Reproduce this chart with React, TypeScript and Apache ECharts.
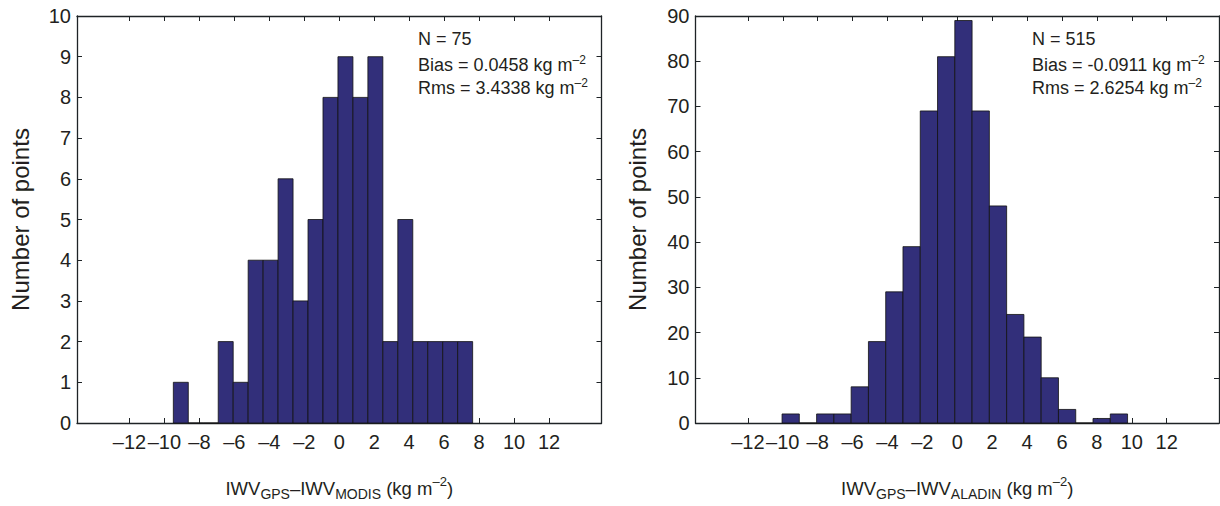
import React, { useEffect, useRef } from "react";
import * as echarts from "echarts";

const xTickValues = [-12, -10, -8, -6, -4, -2, 0, 2, 4, 6, 8, 10, 12];

const leftBinStart = -9.49;
const leftBinWidth = 0.856;
const leftCounts = [1, 0, 0, 2, 1, 4, 4, 6, 3, 5, 8, 9, 8, 9, 2, 5, 2, 2, 2, 2];

const rightBinStart = -10.04;
const rightBinWidth = 0.99;
const rightCounts = [2, 0, 2, 2, 8, 18, 29, 39, 69, 81, 89, 69, 48, 24, 19, 10, 3, 0, 1, 2];

const leftStats = ["N = 75", "Bias = 0.0458 kg m", "Rms = 3.4338 kg m"];
const rightStats = ["N = 515", "Bias = -0.0911 kg m", "Rms = 2.6254 kg m"];

const FONT = "Liberation Sans, Arial, Helvetica, sans-serif";
const TXT = "#231f20";
const AX = "#1e2326";
const BAR = "#322f7a";

function bins(start: number, width: number, counts: number[]) {
  return counts.map((c, i) => [start + i * width, start + (i + 1) * width, c]);
}

const rich = {
  n: { fontSize: 18.5, fontFamily: FONT, color: TXT, lineHeight: 26 },
  sub: { fontSize: 14, fontFamily: FONT, color: TXT, verticalAlign: "bottom", lineHeight: 15 },
  sup: { fontSize: 13, fontFamily: FONT, color: TXT, verticalAlign: "top", lineHeight: 13 },
};

const statRich = {
  n: { fontSize: 18, fontFamily: FONT, color: TXT, lineHeight: 22 },
  sup: { fontSize: 12, fontFamily: FONT, color: TXT, verticalAlign: "top", lineHeight: 11 },
};

export default function App() {
  const ref = useRef<HTMLDivElement>(null);
  useEffect(() => {
    if (!ref.current) return;
    const chart = echarts.init(ref.current, null, { renderer: "svg" });
    const grids = [
      { left: 77, right: 618.5, top: 16, bottom: 76 },
      { left: 695.5, right: 1, top: 16, bottom: 76 },
    ];
    const xAxes: any[] = [];
    const yAxes: any[] = [];
    const names = [
      "{n|IWV}{sub|GPS}{n|–IWV}{sub|MODIS}{n| (kg m}{sup|–2}{n|)}",
      "{n|IWV}{sub|GPS}{n|–IWV}{sub|ALADIN}{n| (kg m}{sup|–2}{n|)}",
    ];
    const yMax = [10, 90];
    const yInt = [1, 10];
    for (let g = 0; g < 2; g++) {
      const common = {
        gridIndex: g,
        type: "value",
        min: -15,
        max: 15,
        splitLine: { show: false },
        axisLine: { show: true, onZero: false, lineStyle: { color: AX, width: 1.3 } },
        axisTick: { show: true, inside: true, length: 5, customValues: xTickValues, lineStyle: { color: AX } },
      };
      xAxes.push({
        ...common,
        position: "bottom",
        name: names[g],
        nameLocation: "middle",
        nameGap: 52,
        nameTextStyle: { rich },
        axisLabel: {
          show: true,
          customValues: xTickValues,
          fontSize: 20,
          fontFamily: FONT,
          color: TXT,
          margin: 9,
          formatter: (v: number) => String(v).replace("-", "–"),
        },
      });
      xAxes.push({ ...common, position: "top", axisLabel: { show: false } });
      const ycommon = {
        gridIndex: g,
        type: "value",
        min: 0,
        max: yMax[g],
        interval: yInt[g],
        splitLine: { show: false },
        axisLine: { show: true, onZero: false, lineStyle: { color: AX, width: 1.3 } },
        axisTick: { show: true, inside: true, length: 5, lineStyle: { color: AX } },
      };
      yAxes.push({
        ...ycommon,
        position: "left",
        name: "Number of points",
        nameLocation: "middle",
        nameGap: g === 0 ? 45 : 46,
        nameTextStyle: { fontSize: 24, fontFamily: FONT, color: TXT },
        axisLabel: { show: true, fontSize: 20, fontFamily: FONT, color: TXT, margin: 6 },
      });
      yAxes.push({ ...ycommon, position: "right", axisLabel: { show: false } });
    }

    const renderItem = (params: any, api: any) => {
      const x0 = api.value(0);
      const x1 = api.value(1);
      const c = api.value(2);
      const p0 = api.coord([x0, c]);
      const p1 = api.coord([x1, 0]);
      return {
        type: "rect",
        shape: { x: p0[0], y: p0[1], width: p1[0] - p0[0], height: p1[1] - p0[1] },
        style: { fill: BAR, stroke: "#111", lineWidth: 0.8 },
      };
    };

    const statText = (x: number, lines: string[]) =>
      lines.map((t, i) => ({
        type: "text",
        left: x,
        top: 30 + i * 23.5,
        style: {
          text: i === 0 ? `{n|${t}}` : `{n|${t}}{sup|–2}`,
          rich: statRich,
          fill: TXT,
        },
      }));

    chart.setOption({
      animation: false,
      grid: grids,
      xAxis: xAxes,
      yAxis: yAxes,
      series: [
        {
          type: "custom",
          xAxisIndex: 0,
          yAxisIndex: 0,
          renderItem,
          encode: { x: [0, 1], y: 2 },
          data: bins(leftBinStart, leftBinWidth, leftCounts),
          clip: false,
        },
        {
          type: "custom",
          xAxisIndex: 2,
          yAxisIndex: 2,
          renderItem,
          encode: { x: [0, 1], y: 2 },
          data: bins(rightBinStart, rightBinWidth, rightCounts),
          clip: false,
        },
      ],
      graphic: [...statText(418, leftStats), ...statText(1032, rightStats)],
    });
    return () => chart.dispose();
  }, []);
  return (
    <div
      ref={ref}
      style={{ position: "fixed", left: 0, top: 0, width: 1220, height: 506, background: "#fff" }}
    />
  );
}
